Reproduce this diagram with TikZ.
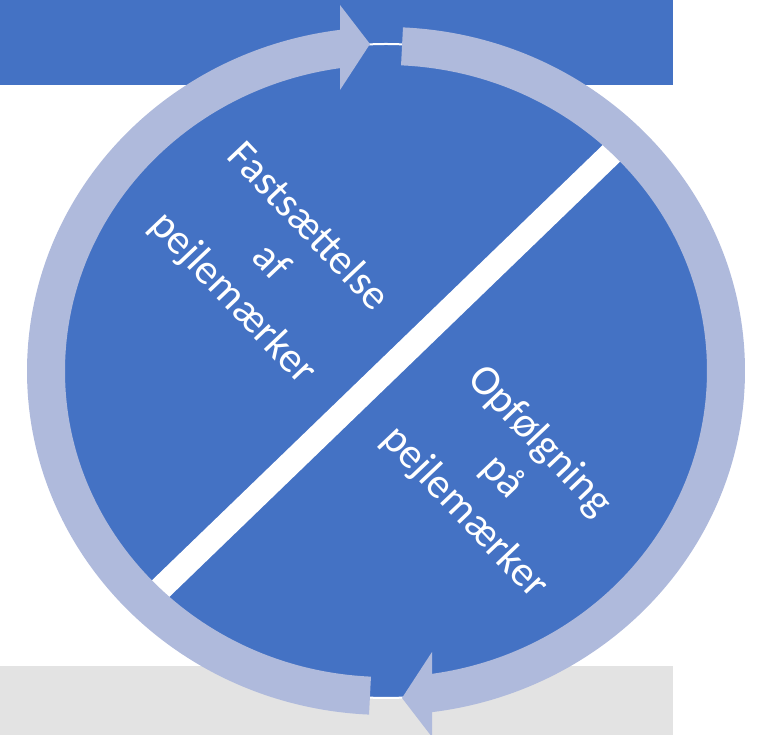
\documentclass[tikz,border=0pt]{standalone}
\usepackage{fontspec}
\setmainfont{Carlito}
\usetikzlibrary{calc}
\definecolor{diskblue}{RGB}{68,114,196}
\definecolor{ringblue}{RGB}{175,186,220}
\definecolor{bandgray}{RGB}{227,227,227}
\tikzset{
  ringarc/.style={draw=ringblue,line width=38*0.75pt,line cap=butt},
  ringhead/.style={fill=ringblue,draw=none},
  label/.style={text=white,align=center,rotate=-46.5,inner sep=0pt,
    font=\fontsize{32}{39}\selectfont}
}
\begin{document}
\begin{tikzpicture}[x=0.75pt,y=0.75pt]
\useasboundingbox (0,0) rectangle (761,735);
\clip (0,0) rectangle (761,735);
% background bands
\fill[diskblue] (0,650) rectangle (673,735);
\fill[bandgray] (0,0) rectangle (673,69);
% disk
\fill[diskblue,draw=white,line width=1.5pt] (386,364) circle[radius=327];
% white stripe
\begin{scope}
  \clip (386,364) circle[radius=327];
  \draw[white,line width=24*0.75pt] ($(386,364)+(224:400)$) -- ($(386,364)+(44:400)$);
\end{scope}
% ring arcs
\draw[ringarc] ($(386,364)+(267.3:340 and 325)$) arc[start angle=267.3,end angle=96.5,x radius=340,y radius=325];
\draw[ringarc] ($(386,364)+(87.3:340 and 325)$) arc[start angle=87.3,end angle=-83.5,x radius=340,y radius=325];
% arrow heads
\fill[ringhead] (340,730) -- (370,691) -- (340,645) -- cycle;
\fill[ringhead] (432,83) -- (402,37) -- (432,-2) -- cycle;
% labels
\node[label] (fast) at (270,472) {Fastsættelse\\af\\pejlemærker};
\node[label] (opf) at (502,258) {Opfølgning\\på\\pejlemærker};
\end{tikzpicture}
\end{document}
